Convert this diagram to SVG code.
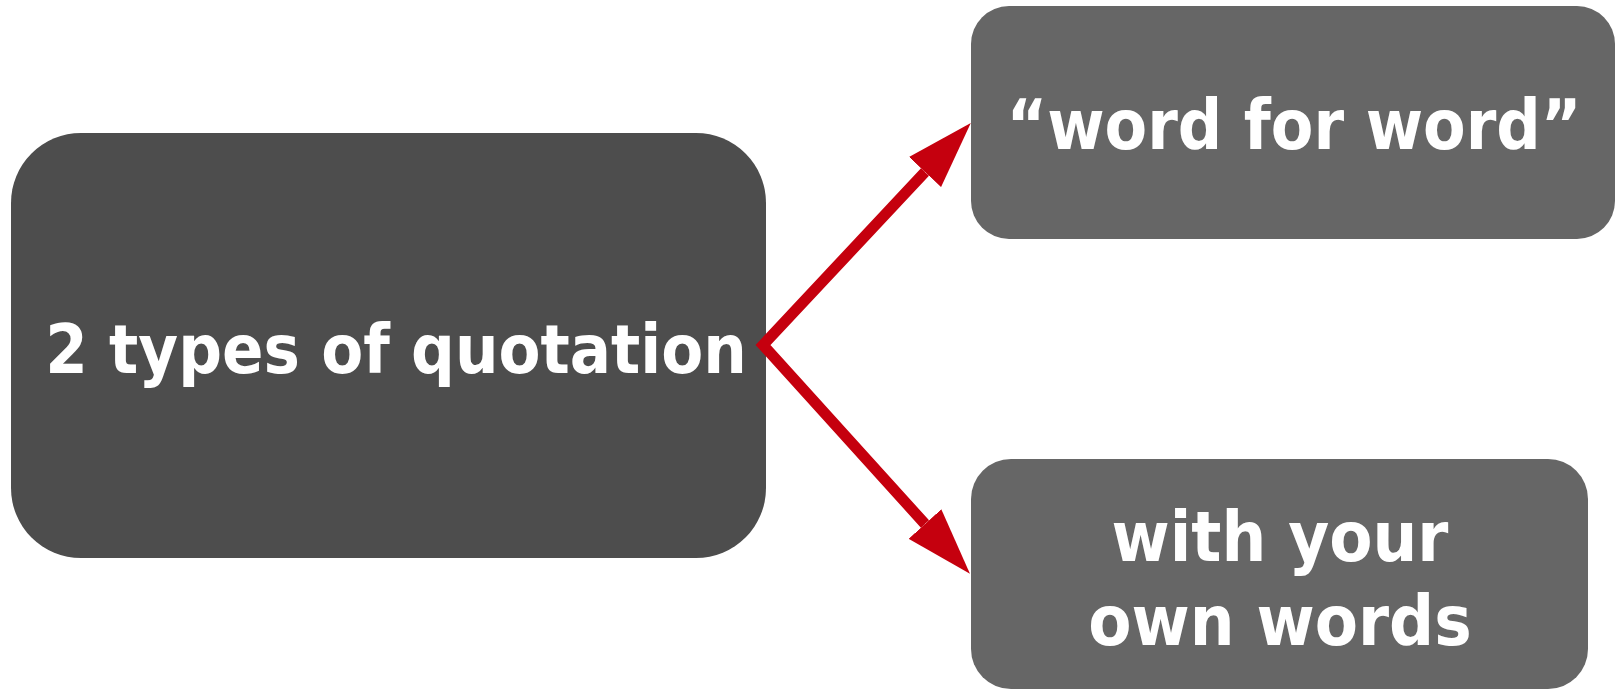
<svg xmlns="http://www.w3.org/2000/svg" width="1616" height="689" viewBox="0 0 1616 689">
  <style>
    .lbl { font-family: "DejaVu Sans Condensed", "DejaVu Sans", "Liberation Sans", sans-serif; font-stretch: condensed; font-weight: bold; fill: #ffffff; text-anchor: middle; }
    .conn { stroke: #c5000e; stroke-width: 11; fill: none; stroke-linejoin: miter; stroke-miterlimit: 10; }
  </style>
  <defs>
    <!-- solid triangular arrowhead; the line stops at its base -->
    <marker id="head" viewBox="0 0 67 44" refX="0" refY="22" markerUnits="userSpaceOnUse" markerWidth="67" markerHeight="44" orient="auto-start-reverse">
      <path d="M0,0 L67,22 L0,44 z" fill="#c5000e"/>
    </marker>
  </defs>

  <g id="node-main">
    <rect x="11" y="133" width="755" height="425" rx="70" ry="70" fill="#4d4d4d"/>
    <text class="lbl" x="396" y="373" font-size="68">2 types of quotation</text>
  </g>

  <g id="node-word-for-word">
    <rect x="971" y="6" width="644" height="233" rx="38" ry="38" fill="#666666"/>
    <text class="lbl" x="1294" y="149" font-size="69">“word for word”</text>
  </g>

  <g id="node-own-words">
    <rect x="971" y="459" width="617" height="230" rx="40" ry="40" fill="#666666"/>
    <text class="lbl" x="1280" y="561" font-size="70">with your</text>
    <text class="lbl" x="1280" y="645" font-size="70">own words</text>
  </g>

  <g id="connectors">
    <!-- both branches leave the main box from one point -->
    <path class="conn" d="M925,172 L763,345 L925,524" marker-start="url(#head)" marker-end="url(#head)"/>
  </g>
</svg>
